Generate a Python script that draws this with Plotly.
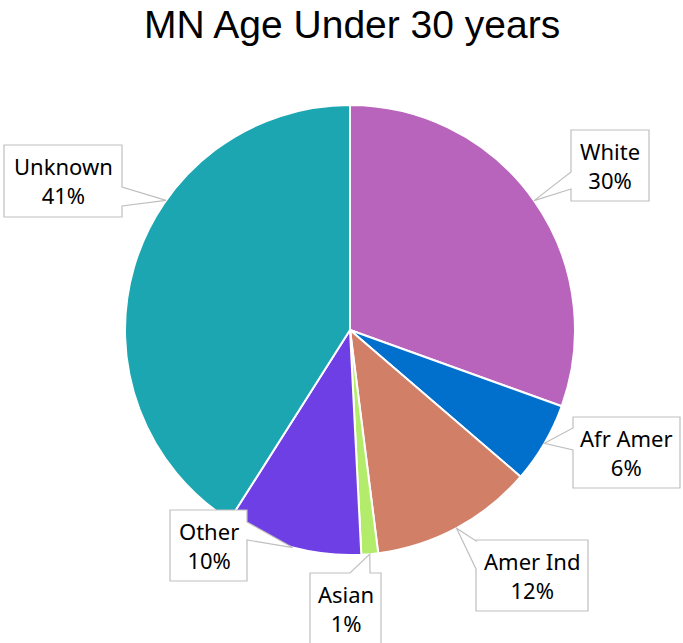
import math
import plotly.graph_objects as go

# ---- data ----
categories = ["White", "Afr Amer", "Amer Ind", "Asian", "Other", "Unknown"]
values = [30.5, 5.8, 11.7, 1.2, 9.8, 41.0]
colors = ["#B964BC", "#0070CC", "#D17F67", "#B3EB6B", "#6E3FE4", "#1CA6B1"]

# ---- layout geometry (pixels) ----
W, H = 683, 643
CX, CY, R = 350, 330, 225

# callout boxes: (x0, y0, x1, y1), side of the pointer, pointer base (a, b), angle nudge (deg)
callouts = {
    "White":    ((571, 130, 649, 201), "left",  (172, 189), 0),
    "Afr Amer": ((573, 417, 680, 488), "left",  (428, 450), 0),
    "Amer Ind": ((476, 540, 588, 611), "left",  (541, 569), 0),
    "Asian":    ((310, 573, 381, 650), "top",   (350, 370), 0),
    "Other":    ((170, 510, 247, 581), "right", (522, 540), 0),
    "Unknown":  ((4, 145, 122, 217),   "right", (187, 206), 19),
}


def px(x, y):
    return x / W, 1 - y / H


fig = go.Figure()
fig.add_trace(go.Pie(
    labels=categories,
    values=values,
    sort=False,
    direction="clockwise",
    rotation=0,
    marker=dict(colors=colors, line=dict(color="white", width=2)),
    textinfo="none",
    hoverinfo="label+percent",
    showlegend=False,
    domain=dict(x=[(CX - R) / W, (CX + R) / W], y=[1 - (CY + R) / H, 1 - (CY - R) / H]),
))

total = sum(values)
cum = 0.0
shapes = []
annotations = []
for cat, v in zip(categories, values):
    mid = (cum + v / 2) / total * 360
    cum += v
    (x0, y0, x1, y1), side, (a, b), nudge = callouts[cat]
    ang = math.radians(mid + nudge)
    tx, ty = CX + R * math.sin(ang), CY - R * math.cos(ang)
    if side == "top":
        pts = [(x0, y0), (a, y0), (tx, ty), (b, y0), (x1, y0), (x1, y1), (x0, y1)]
    elif side == "right":
        pts = [(x0, y0), (x1, y0), (x1, a), (tx, ty), (x1, b), (x1, y1), (x0, y1)]
    else:
        pts = [(x0, y0), (x1, y0), (x1, y1), (x0, y1), (x0, b), (tx, ty), (x0, a)]
    path = ""
    for i, (x, y) in enumerate(pts):
        u, w = px(x, y)
        path += ("M" if i == 0 else "L") + f"{u:.5f},{w:.5f} "
    path += "Z"
    shapes.append(dict(type="path", path=path, xref="paper", yref="paper",
                       fillcolor="white", line=dict(color="#BFBFBF", width=1.2),
                       layer="above"))
    cxb, cyb = (x0 + x1) / 2, y0 + 35.5
    u, w = px(cxb, cyb)
    annotations.append(dict(
        x=u, y=w, xref="paper", yref="paper",
        text=f"{cat}<br>{round(v / total * 100)}%",
        showarrow=False, xanchor="center", yanchor="middle",
        font=dict(family="Noto Sans, Open Sans, sans-serif", size=22, color="#000000"),
        align="center",
    ))

annotations.append(dict(
    x=352 / W, y=1 - 24 / H, xref="paper", yref="paper",
    text="MN Age Under 30 years", showarrow=False,
    xanchor="center", yanchor="middle",
    font=dict(family="Liberation Sans, Arial, sans-serif", size=39, color="#000000"),
))

fig.update_layout(
    width=W, height=H,
    margin=dict(l=0, r=0, t=0, b=0),
    paper_bgcolor="white", plot_bgcolor="white",
    shapes=shapes,
    annotations=annotations,
)

fig.write_html("out.html", config={"displayModeBar": False},
               post_script="document.body.style.margin='0';")
